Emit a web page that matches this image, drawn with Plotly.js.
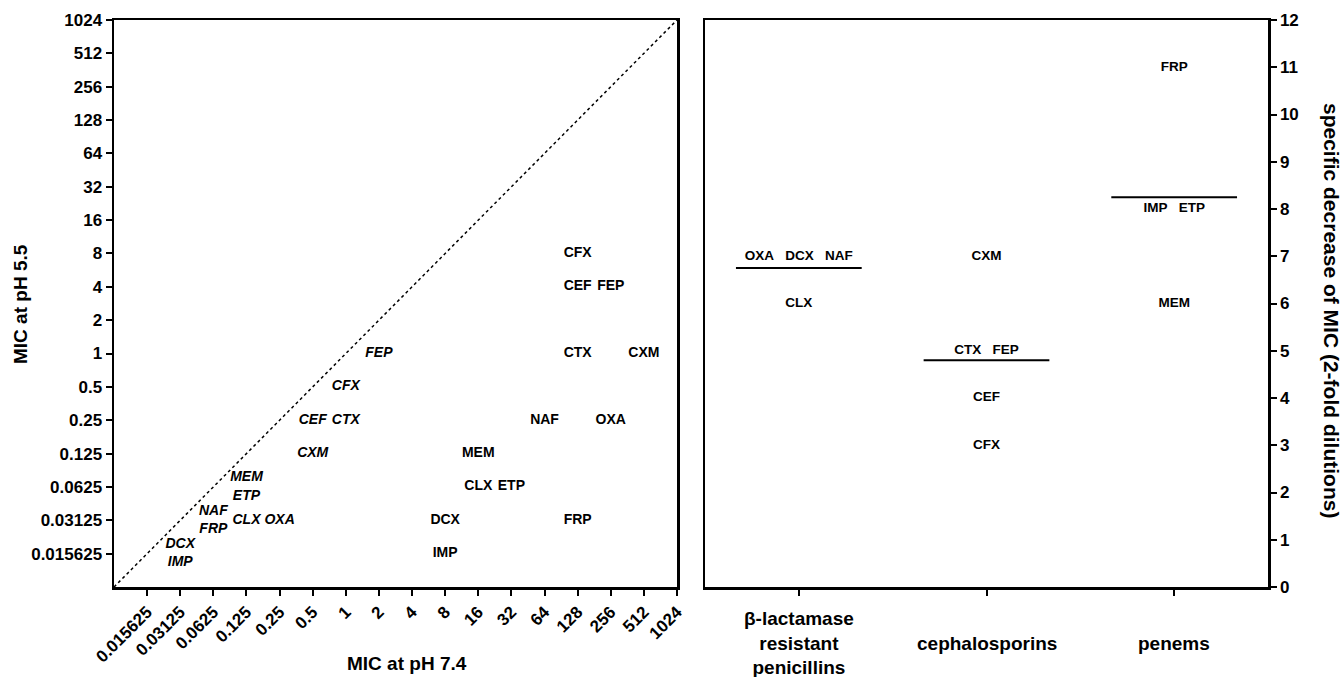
<!DOCTYPE html>
<html><head><meta charset="utf-8">
<script src="https://cdn.plot.ly/plotly-3.0.1.min.js"></script>
<style>html,body{margin:0;padding:0;background:#fff}#chart{width:1344px;height:677px}</style>
</head><body><div id="chart"></div>
<script>
// ---- data ----
const drugs = ['OXA','CLX','DCX','NAF','CXM','CFX','CEF','CTX','FEP','IMP','MEM','ETP','FRP'];
// strain shown in italic labels
const micItal74 = [0.25,0.125,0.03125,0.0625,0.5,1,0.5,1,2,0.03125,0.125,0.125,0.0625];
const micItal55 = [0.03125,0.03125,0.015625,0.03125,0.125,0.5,0.25,0.25,1,0.015625,0.0625,0.0625,0.03125];
// strain shown in upright labels
const micUp74 = [256,16,8,64,512,128,128,128,256,8,16,32,128];
const micUp55 = [0.25,0.0625,0.03125,0.25,1,8,4,1,4,0.015625,0.125,0.0625,0.03125];
// right panel
const classLabels = ['β-lactamase<br>resistant<br>penicillins','cephalosporins','penems'];
const drugClass = [0,0,0,0,1,1,1,1,1,2,2,2,2];
const decrease = [7,6,7,7,7,3,4,5,5,8,6,8,11];
// ticks
const micTicks = [0.015625,0.03125,0.0625,0.125,0.25,0.5,1,2,4,8,16,32,64,128,256,512,1024];
const micTickText = ['0.015625','0.03125','0.0625','0.125','0.25','0.5','1','2','4','8','16','32','64','128','256','512','1024'];
const decTicks = [0,1,2,3,4,5,6,7,8,9,10,11,12];
const micMin = 0.0078125, micMax = 1024;

// ---- helpers ----
function groupPoints(xs, ys, names, sep) {
  const map = new Map();
  xs.forEach((x, i) => {
    const k = x + '|' + ys[i];
    if (!map.has(k)) map.set(k, {x: x, y: ys[i], t: []});
    map.get(k).t.push(names[i]);
  });
  const g = [...map.values()];
  return {x: g.map(d => d.x), y: g.map(d => d.y), text: g.map(d => d.t.join(sep))};
}

const FONT = 'Liberation Sans, Arial, Helvetica, sans-serif';
const ital = groupPoints(micItal74, micItal55, drugs, '<br>');
const up = groupPoints(micUp74, micUp55, drugs, '<br>');
const right = groupPoints(drugClass, decrease, drugs, '\u00a0\u00a0\u00a0');

const traces = [
  {x: [micMin, micMax], y: [micMin, micMax], mode: 'lines', xaxis: 'x', yaxis: 'y',
   line: {color: '#000', width: 1.5, dash: 'dot'}, hoverinfo: 'skip', showlegend: false},
  {x: ital.x, y: ital.y, text: ital.text, mode: 'text', xaxis: 'x', yaxis: 'y',
   textposition: 'middle center', showlegend: false,
   textfont: {family: FONT, size: 14, color: '#000', weight: 'bold', style: 'italic'}},
  {x: up.x, y: up.y, text: up.text, mode: 'text', xaxis: 'x', yaxis: 'y',
   textposition: 'middle center', showlegend: false,
   textfont: {family: FONT, size: 14, color: '#000', weight: 'bold'}},
  {x: right.x, y: right.y, text: right.text, mode: 'text', xaxis: 'x2', yaxis: 'y2',
   textposition: 'middle center', showlegend: false,
   textfont: {family: FONT, size: 13.5, color: '#000', weight: 'bold'}}
];
// class mean lines
classLabels.forEach((c, ci) => {
  const vals = decrease.filter((v, i) => drugClass[i] === ci);
  const m = vals.reduce((a, b) => a + b, 0) / vals.length;
  traces.push({x: [ci - 0.335, ci + 0.335], y: [m, m], mode: 'lines', xaxis: 'x2', yaxis: 'y2',
    line: {color: '#000', width: 2}, hoverinfo: 'skip', showlegend: false});
});

const W = 1344, H = 677;
const axBase = {showgrid: false, zeroline: false, showline: true, linecolor: '#000', linewidth: 2.5,
  mirror: true, ticks: 'outside', ticklen: 6, tickwidth: 2, tickcolor: '#000', automargin: false,
  tickfont: {family: FONT, size: 17, color: '#000', weight: 'bold'}};
const yDom = [1 - 587 / H, 1 - 20 / H];

const annotations = classLabels.map((c, i) => ({
  text: c, x: i, xref: 'x2', y: 1 - 643 / H, yref: 'paper', showarrow: false,
  xanchor: 'center', yanchor: 'middle', align: 'center',
  font: {family: FONT, size: 19, color: '#000', weight: 'bold'}
}));
annotations.push(
  {text: 'MIC at pH 7.4', x: 407 / W, y: 1 - 663 / H, xref: 'paper', yref: 'paper', showarrow: false,
   xanchor: 'center', yanchor: 'middle', font: {family: FONT, size: 19, color: '#000', weight: 'bold'}},
  {text: 'MIC at pH 5.5', x: 20 / W, y: 1 - 304 / H, xref: 'paper', yref: 'paper', showarrow: false,
   textangle: -90, xanchor: 'center', yanchor: 'middle', font: {family: FONT, size: 19, color: '#000', weight: 'bold'}},
  {text: 'specific decrease of MIC (2-fold dilutions)', x: 1332 / W, y: 1 - 310 / H, xref: 'paper', yref: 'paper',
   showarrow: false, textangle: 90, xanchor: 'center', yanchor: 'middle',
   font: {family: FONT, size: 21, color: '#000', weight: 'bold'}}
);

const layout = {
  width: W, height: H, margin: {l: 0, r: 0, t: 0, b: 0}, paper_bgcolor: '#fff', plot_bgcolor: '#fff',
  showlegend: false,
  xaxis: Object.assign({}, axBase, {type: 'log', range: [Math.log10(micMin), Math.log10(micMax)],
    domain: [114 / W, 677 / W], anchor: 'y', tickvals: micTicks, ticktext: micTickText, tickangle: -45}),
  yaxis: Object.assign({}, axBase, {type: 'log', range: [Math.log10(micMin), Math.log10(micMax)],
    domain: yDom, anchor: 'x', tickvals: micTicks, ticktext: micTickText}),
  xaxis2: Object.assign({}, axBase, {range: [-0.5, 2.5], domain: [705 / W, 1268 / W], anchor: 'y2',
    tickvals: [0, 1, 2], showticklabels: false}),
  yaxis2: Object.assign({}, axBase, {range: [0, 12], domain: yDom, anchor: 'x2', side: 'right',
    tickvals: decTicks}),
  annotations: annotations
};
Plotly.newPlot('chart', traces, layout, {displayModeBar: false, staticPlot: true});
</script></body></html>
